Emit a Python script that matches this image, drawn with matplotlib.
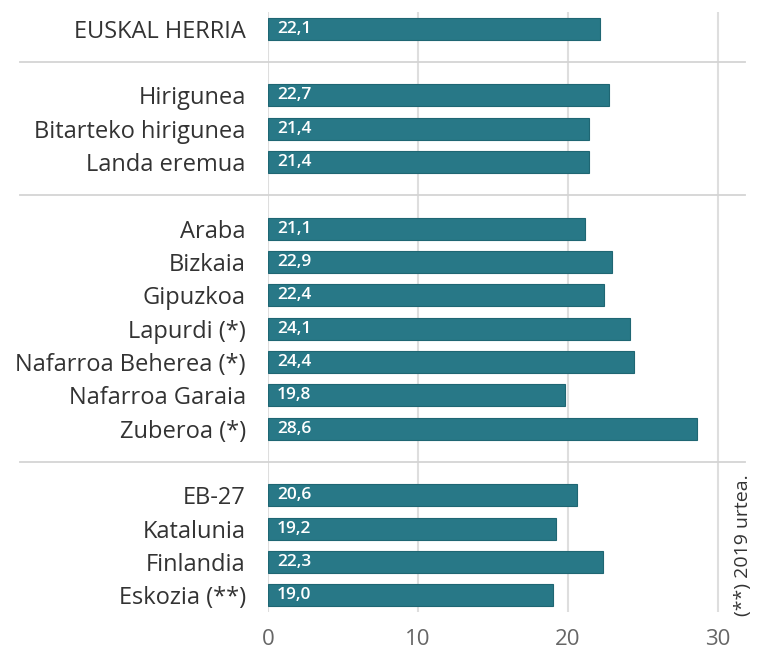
import matplotlib
matplotlib.use("Agg")
import matplotlib.pyplot as plt
import matplotlib.transforms as mtransforms

categories = ["EUSKAL HERRIA", "Hirigunea", "Bitarteko hirigunea", "Landa eremua",
              "Araba", "Bizkaia", "Gipuzkoa", "Lapurdi (*)", "Nafarroa Beherea (*)",
              "Nafarroa Garaia", "Zuberoa (*)", "EB-27", "Katalunia", "Finlandia", "Eskozia (**)"]
values = [22.1, 22.7, 21.4, 21.4, 21.1, 22.9, 22.4, 24.1, 24.4, 19.8, 28.6, 20.6, 19.2, 22.3, 19.0]
value_labels = ["22,1", "22,7", "21,4", "21,4", "21,1", "22,9", "22,4", "24,1", "24,4",
                "19,8", "28,6", "20,6", "19,2", "22,3", "19,0"]
slots = [0, 2, 3, 4, 6, 7, 8, 9, 10, 11, 12, 14, 15, 16, 17]
separators = [1, 5, 13]
xticks = [0, 10, 20, 30]
note = "(**) 2019 urtea."

plt.rcParams['font.family'] = ['Open Sans', 'DejaVu Sans']

fig = plt.figure(figsize=(7.59, 6.5), dpi=100)
ax = fig.add_axes([268/759, 1 - 612/650, (745 - 268)/759, 600/650])
ax.set_xlim(0, 31.8)
ax.set_ylim(17.5, -0.5)

for x in xticks:
    ax.axvline(x, color="#dedede", lw=1.5, zorder=0)

bar_color = "#287887"
ax.barh(slots, values, height=0.66, color=bar_color, edgecolor="#1f6673", linewidth=0.8, zorder=2)

for s, lab in zip(slots, value_labels):
    ax.text(0.6, s, lab, color="white", fontsize=12.5, fontweight="semibold",
            va="center", ha="left", zorder=3)

trans = mtransforms.blended_transform_factory(fig.transFigure, ax.transData)
for s in separators:
    ax.plot([20/759, 745/759], [s, s], transform=trans, color="#d4d4d4", lw=1.3,
            clip_on=False, zorder=1)

ax.set_yticks(slots)
ax.set_yticklabels(categories, fontsize=17, color="#333333")
ax.tick_params(axis="y", length=0, pad=16)
ax.set_xticks(xticks)
ax.set_xticklabels([str(x) for x in xticks], fontsize=16, color="#666666")
ax.tick_params(axis="x", length=0, pad=12)
for sp in ax.spines.values():
    sp.set_visible(False)

fig.text(743/759, 1 - 545/650, note, rotation=90, fontsize=14, color="#333333",
         ha="center", va="center")

fig.savefig("out.png", dpi=100)
